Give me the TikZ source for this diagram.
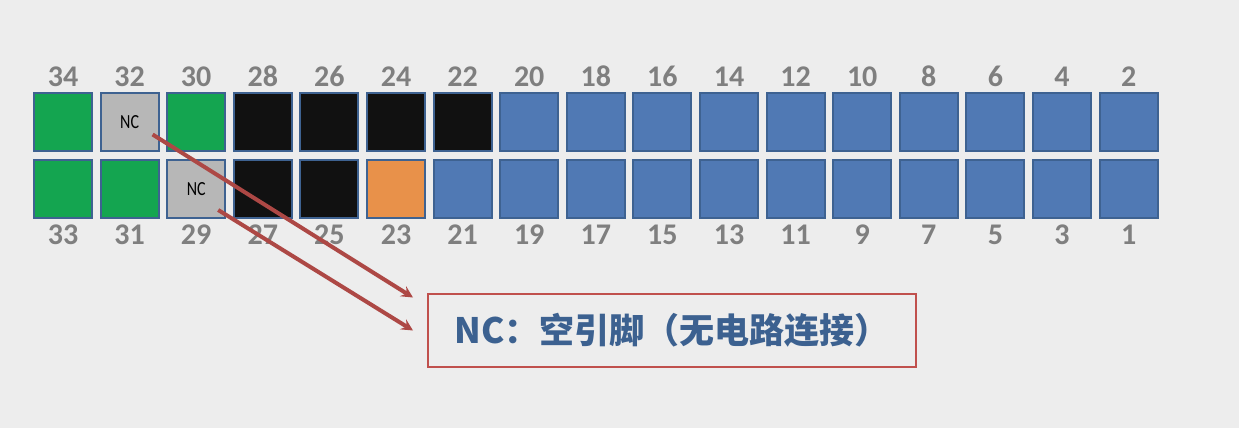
\documentclass[tikz,border=0pt]{standalone}
\usepackage{fontspec}
\setmainfont{Carlito}
\newfontfamily\cjk{Noto Sans CJK SC}
\usepackage{xcolor}
\usetikzlibrary{arrows,positioning,calc}

\definecolor{bgcol}{HTML}{EDEDED}
\definecolor{pinedge}{HTML}{3E6291}
\definecolor{pingreen}{HTML}{14A550}
\definecolor{pingray}{HTML}{B7B7B7}
\definecolor{pinblack}{HTML}{111111}
\definecolor{pinorange}{HTML}{E8914A}
\definecolor{pinblue}{HTML}{5079B4}
\definecolor{numgray}{HTML}{7F7F7F}
\definecolor{capblue}{HTML}{3C6190}
\definecolor{capred}{HTML}{C0504D}

\begin{document}
\begin{tikzpicture}[
    x=1pt, y=1pt,
    pin/.style={rectangle, draw=pinedge, line width=2pt, minimum size=58pt, inner sep=0pt},
    ncmark/.style={font=\fontsize{20}{20}\selectfont, xscale=0.8, transform shape},
    num/.style={font=\fontsize{30}{30}\selectfont\bfseries, text=numgray, inner sep=2pt},
    caption/.style={rectangle, draw=capred, line width=2pt, fill=bgcol,
                minimum width=488pt, minimum height=73pt,
                font=\cjk\fontsize{35}{35}\selectfont\bfseries, text=capblue}
]

% Background
\fill[bgcol] (0,0) rectangle (1239,428);
\useasboundingbox (0,0) rectangle (1239,428);

% Top row (even pins)
\foreach \t/\c [count=\i from 0] in {34/pingreen, 32/pingray, 30/pingreen,
    28/pinblack, 26/pinblack, 24/pinblack, 22/pinblack, 20/pinblue, 18/pinblue,
    16/pinblue, 14/pinblue, 12/pinblue, 10/pinblue, 8/pinblue, 6/pinblue,
    4/pinblue, 2/pinblue}
{
    \node[pin, fill=\c] (p\t) at (63+66.6*\i, 305.5) {};
    \node[num, above=4pt of p\t] (n\t) {\t};
}

% Bottom row (odd pins)
\foreach \t/\c [count=\i from 0] in {33/pingreen, 31/pingreen, 29/pingray,
    27/pinblack, 25/pinblack, 23/pinorange, 21/pinblue, 19/pinblue, 17/pinblue,
    15/pinblue, 13/pinblue, 11/pinblue, 9/pinblue, 7/pinblue, 5/pinblue,
    3/pinblue, 1/pinblue}
{
    \node[pin, fill=\c] (p\t) at (63+66.6*\i, 239) {};
    \node[num, below=4pt of p\t] (n\t) {\t};
}

% NC marks
\node[ncmark] (nc32) at (p32) {NC};
\node[ncmark] (nc29) at (p29) {NC};

% Caption
\node[caption] (cap) at (672, 97.5) {NC：空引脚（无电路连接）};

% Arrows from NC pins to caption
\coordinate (a1) at ($(p32.center)+(23,-12)$);
\coordinate (a2) at ($(p29.center)+(22,-21)$);
\coordinate (b1) at ($(cap.west)+(-14,33)$);
\coordinate (b2) at ($(cap.west)+(-14,0)$);
\draw[->, >=stealth, line width=4pt, capred!90!black] (a1) -- (b1);
\draw[->, >=stealth, line width=4pt, capred!90!black] (a2) -- (b2);

\end{tikzpicture}
\end{document}
